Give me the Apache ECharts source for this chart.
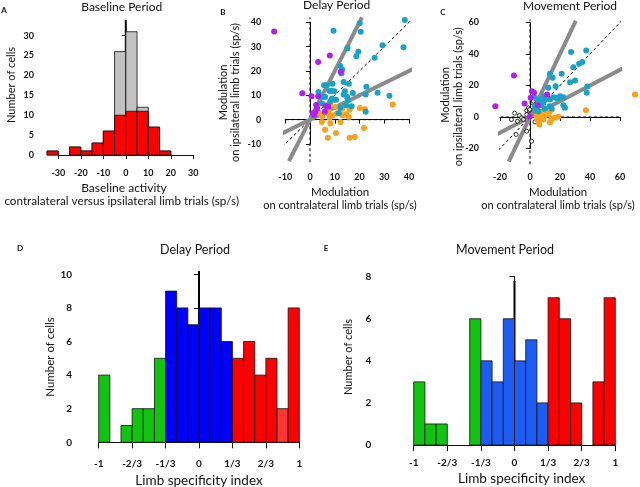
<!DOCTYPE html>
<html>
<head>
<meta charset="utf-8">
<script src="https://cdn.jsdelivr.net/npm/echarts@6/dist/echarts.min.js"></script>
<style>
  html, body { margin: 0; padding: 0; background: #fff; }
  #main { width: 640px; height: 487px; }
</style>
</head>
<body>
<div id="main"></div>
<script>
// A: baseline histogram, bin edges and counts (red = significant, total = red + grey)
var baseEdges = [-35, -30, -25, -20, -15, -10, -5, 0, 5, 10, 15, 20];
var baseRed = [1, 0, 2, 1, 3, 6, 10, 11, 11, 7, 1];
var baseTotal = [1, 0, 2, 1, 3, 6, 26, 31, 12, 7, 1];

// B: delay period scatter (contra, ipsi) in sp/s
var delayPurple = [[-14.5, 36.2], [3.3, 23.7], [8.0, 26.4], [12.4, 19.7], [-3.1, 10.9], [0.6, 9.6], [3.3, 9.6],
  [2.5, 6.0], [2.9, 4.7], [2.2, 3.3], [1.6, 1.9], [1.1, 2.6], [6.3, 5.6], [7.4, 5.3], [6.0, 3.3]];
var delayCyan = [[38.3, 40.9], [20.1, 39.6], [20.5, 36.1], [9.5, 36.5], [15.1, 29.3], [29.3, 30.6], [37.8, 29.7],
  [19.5, 27.9], [18.7, 26.1], [26.1, 25.4], [12.3, 22.0], [13.0, 20.6], [12.7, 19.0], [5.7, 14.1], [6.8, 14.1],
  [9.1, 14.8], [13.6, 15.5], [15.7, 14.8], [8.9, 11.8], [9.8, 11.7], [7.9, 11.8], [3.4, 11.4], [14.1, 11.7],
  [13.6, 10.3], [15.0, 9.3], [17.3, 11.0], [22.8, 13.5], [27.3, 11.1], [22.5, 10.3], [32.1, 9.8], [15.4, 8.0],
  [16.8, 5.5], [14.6, 5.9], [22.5, 3.2], [4.8, 9.3], [4.8, 6.6], [8.9, 8.7], [10.5, 8.2], [8.2, 7.6], [7.2, 5.9],
  [6.1, 9.3], [12.3, 4.9], [11.6, 2.7]];
var delayOrange = [[33.4, 6.2], [20.1, 4.8], [22.2, 4.3], [16.0, 4.1], [13.0, 4.5], [9.5, 8.0], [8.2, 6.6],
  [6.1, 5.9], [4.1, 2.5], [5.0, 1.4], [7.5, 2.5], [7.9, 0.8], [9.1, 1.8], [10.9, 2.5], [13.0, 1.8], [15.7, 1.1],
  [4.8, -1.0], [8.2, -1.6], [12.3, -1.0], [6.1, -4.1], [10.5, -5.5], [21.8, -3.4], [7.2, -7.4], [16.0, -7.4],
  [18.1, -7.1], [7.5, 3.8], [10.2, 5.2], [14.6, 2.2]];
// reference lines, endpoints
var delaySteep = [[-8.5, -17], [21, 42]];
var delayShallow = [[-16.8, -8.4], [44.4, 22.2]];
var delayUnity = [[-16, -16], [42.5, 42.5]];
var delayVert = [[0, -17.5], [0, 42]];
var delayHoriz = [[-16.4, 0], [43, 0]];

// C: movement period scatter
var movePurple = [[-10.7, 26.3], [-23.1, 6.9], [1.3, 16.4], [2.7, 15.4], [-3.6, 8.6], [0.4, 12.2], [11.4, 14.3],
  [5.3, 7.5], [-0.2, 0.1]];
var moveCyan = [[37.5, 42.2], [27.4, 41.2], [34.9, 35], [32.7, 33.8], [28.9, 31.6], [21.1, 27.4], [13.3, 27.4],
  [15.1, 24.9], [26.7, 22.1], [30, 23.2], [17.1, 19.6], [12.2, 18.5], [38.2, 19.4], [37.8, 15.4], [20, 13.2],
  [22.2, 12.6], [15.6, 12.6], [17.3, 12.2], [18.2, 11.7], [8.9, 13.2], [6.2, 10.5], [7.8, 7.5], [10, 5.4],
  [13.3, 6.9], [14.4, 5.4], [22.2, 7.5], [23.3, 5.8], [3.3, 6.9], [4.4, 4.8], [13.3, 11.1], [3.3, 12.2],
  [10, 11.1], [5.6, 3.7], [8.9, 9.0]];
var moveOrange = [[70, 14.3], [37.3, 4.3], [18.9, 0.1], [16.7, -0.5], [14.4, -1.2], [11.1, 2.7], [6.7, 2.7],
  [4.4, 0.5], [6.7, -0.5], [5.6, -2.7], [6.2, -4.8], [8.9, -1.6], [12.2, 1.6], [10, 1.1], [13.3, 3.7],
  [14.4, 4.8], [13.3, -3.3]];
var moveOpen = [[-10.2, 2.4], [-12.4, -1.6], [-7.1, 1], [-5.6, -0.5], [-4.4, -1.6], [-8.4, -2.7], [-2.2, 4.1],
  [-1.1, 5.8], [1.8, 9], [2.2, 10], [-9.3, -11.1], [-2.2, -9], [1.1, -15.4], [3.3, -3.1], [-0.4, 4.1],
  [-2.2, 1.6], [-0.2, 4.8]];
var moveSteep = [[-14.2, -28.4], [30.5, 61]];
var moveShallow = [[-27, -13.5], [74, 37]];
var moveUnity = [[-28.5, -28.5], [61.5, 61.5]];
var moveVert = [[0, -30], [0, 62]];
var moveHoriz = [[-27, 0], [64, 0]];

// D/E: limb specificity histograms, 18 bins of 1/9
var specEdges = [-1, -8/9, -7/9, -6/9, -5/9, -4/9, -3/9, -2/9, -1/9, 0, 1/9, 2/9, 3/9, 4/9, 5/9, 6/9, 7/9, 8/9, 1];
var specTicks = ['-1', '-2/3', '-1/3', '0', '1/3', '2/3', '1'];
var delayCounts = [4, 0, 1, 2, 2, 5, 9, 8, 7, 8, 8, 6, 5, 6, 4, 5, 2, 8];
var delayGroup = ['g', 'g', 'g', 'g', 'g', 'g', 'b', 'b', 'b', 'b', 'b', 'b', 'r', 'r', 'r', 'r', 'r2', 'r'];
var moveCounts = [3, 1, 1, 0, 0, 6, 4, 3, 6, 4, 5, 2, 7, 6, 2, 0, 3, 7];
var moveGroup = ['g', 'g', 'g', 'g', 'g', 'g', 'b', 'b', 'b', 'b', 'b', 'b', 'r', 'r', 'r', 'r', 'r', 'r'];

var FONT = 'Lato';
var chart = echarts.init(document.getElementById('main'));

function histRender(params, api) {
  var n = api.value(2);
  if (!n) return null;
  var p0 = api.coord([api.value(0), n]);
  var p1 = api.coord([api.value(1), 0]);
  return {
    type: 'rect',
    shape: { x: p0[0], y: p0[1], width: p1[0] - p0[0], height: p1[1] - p0[1] },
    style: { fill: api.visual('color'), stroke: '#111', lineWidth: 0.8 }
  };
}

function histData(edges, counts, colorOf) {
  var out = [];
  for (var i = 0; i < counts.length; i++) {
    out.push({ value: [edges[i], edges[i + 1], counts[i]], itemStyle: { color: colorOf(i) } });
  }
  return out;
}

function axisX(idx, min, max, interval, offset, margin, tickLen, size, fmt) {
  return {
    gridIndex: idx, type: 'value', min: min, max: max, interval: interval, offset: offset,
    splitLine: { show: false },
    axisLine: { lineStyle: { color: '#111', width: 1 } },
    axisTick: { length: tickLen, lineStyle: { color: '#111' } },
    axisLabel: { margin: margin, fontSize: size, color: '#111', fontFamily: FONT, fontWeight: 'bold', formatter: fmt, showMinLabel: true, showMaxLabel: true }
  };
}
function axisY(idx, min, max, interval, offset, margin, tickLen, size) {
  return {
    gridIndex: idx, type: 'value', min: min, max: max, interval: interval, offset: offset,
    splitLine: { show: false },
    axisLine: { lineStyle: { color: '#111', width: 1 } },
    axisTick: { length: tickLen, lineStyle: { color: '#111' } },
    axisLabel: { margin: margin, fontSize: size, color: '#111', fontFamily: FONT, fontWeight: 'bold' }
  };
}
var specFmt = function (v) { return specTicks[Math.round((v + 1) * 3)]; };

function lineSeries(idx, pts, color, width, dashed) {
  return {
    type: 'line', xAxisIndex: idx, yAxisIndex: idx, data: pts, showSymbol: false, clip: false,
    silent: true, z: 1,
    lineStyle: { color: color, width: width, type: dashed ? [3, 2.5] : 'solid' }
  };
}
function dots(idx, pts, color, size) {
  return {
    type: 'scatter', xAxisIndex: idx, yAxisIndex: idx, data: pts, clip: false, z: 3,
    symbolSize: size || 6, itemStyle: { color: color, opacity: 1 }
  };
}

var colorD = { g: '#10c410', b: '#0000ff', r: '#ff0000', r2: '#ff3535' };
var colorE = { g: '#12c412', b: '#1d5cf2', r: '#ff0000' };

function txt(x, y, s, size, rot, weight) {
  return {
    type: 'text', x: x, y: y, rotation: rot ? Math.PI / 2 : 0,
    style: { text: s, fill: '#111', font: (weight || 'normal') + ' ' + size + 'px ' + FONT, align: 'center', verticalAlign: 'middle' }
  };
}

var option = {
  animation: false,
  backgroundColor: '#fff',
  grid: [
    { left: 58.3, top: 35.7, width: 135, height: 119.3 },
    { left: 285.25, top: 22.3, width: 123.75, height: 121.7 },
    { left: 500, top: 22.5, width: 120, height: 126 },
    { left: 98.7, top: 274.3, width: 200.6, height: 168 },
    { left: 413.7, top: 276.7, width: 201.6, height: 168.3 }
  ],
  xAxis: [
    axisX(0, -30, 30, 10, 7, 7, 4, 9),
    axisX(1, -10, 40, 10, 20, 9, 4, 9),
    axisX(2, -20, 60, 20, 15.5, 9, 4, 9),
    axisX(3, -1, 1, 1 / 3, 4.7, 12, 6, 10, specFmt),
    axisX(4, -1, 1, 1 / 3, 3.3, 9, 6, 10, specFmt)
  ],
  yAxis: [
    axisY(0, 0, 30, 5, 18.3, 6, 4, 9),
    axisY(1, -10, 40, 10, 19, 5, 4, 9),
    axisY(2, -20, 60, 20, 14, 7, 4, 9),
    axisY(3, 0, 10, 2, 18.7, 8, 5, 10),
    axisY(4, 0, 8, 2, 31.4, 11, 5, 10)
  ],
  series: [
    // A
    { type: 'custom', xAxisIndex: 0, yAxisIndex: 0, renderItem: histRender, encode: { x: [0, 1], y: 2 },
      data: histData(baseEdges, baseTotal, function () { return '#c2c2c2'; }) },
    { type: 'custom', xAxisIndex: 0, yAxisIndex: 0, renderItem: histRender, encode: { x: [0, 1], y: 2 },
      data: histData(baseEdges, baseRed, function () { return '#ff0000'; }) },
    lineSeries(0, [[0, 0], [0, 34]], '#000', 2, false),
    // B
    lineSeries(1, delayVert, '#000', 1, true),
    lineSeries(1, delayHoriz, '#000', 1, true),
    lineSeries(1, delayUnity, '#000', 1, true),
    lineSeries(1, delaySteep, '#8a8a8a', 4, false),
    lineSeries(1, delayShallow, '#8a8a8a', 4, false),
    dots(1, delayOrange, '#f8a11b'),
    dots(1, delayCyan, '#17a3c8'),
    dots(1, delayPurple, '#b01ef2'),
    // C
    lineSeries(2, moveVert, '#000', 1, true),
    lineSeries(2, moveHoriz, '#000', 1, true),
    lineSeries(2, moveUnity, '#000', 1, true),
    lineSeries(2, moveSteep, '#8a8a8a', 4, false),
    lineSeries(2, moveShallow, '#8a8a8a', 4, false),
    { type: 'scatter', xAxisIndex: 2, yAxisIndex: 2, data: moveOpen, clip: false, z: 3, symbolSize: 4,
      itemStyle: { color: '#fff', borderColor: '#000', borderWidth: 1 } },
    dots(2, moveOrange, '#f8a11b'),
    dots(2, moveCyan, '#17a3c8'),
    dots(2, movePurple, '#b01ef2'),
    // D
    { type: 'custom', xAxisIndex: 3, yAxisIndex: 3, renderItem: histRender, encode: { x: [0, 1], y: 2 },
      data: histData(specEdges, delayCounts, function (i) { return colorD[delayGroup[i]]; }) },
    lineSeries(3, [[0, 0], [0, 10.2]], '#000', 2, false),
    // E
    { type: 'custom', xAxisIndex: 4, yAxisIndex: 4, renderItem: histRender, encode: { x: [0, 1], y: 2 },
      data: histData(specEdges, moveCounts, function (i) { return colorE[moveGroup[i]]; }) },
    lineSeries(4, [[0, 0], [0, 7.8]], '#000', 2, false)
  ],
  graphic: [
    txt(4, 10, 'A', 8, false, 'bold'),
    txt(121.7, 7, 'Baseline Period', 12),
    txt(11.7, 85, 'Number of cells', 11, true),
    txt(124, 188, 'Baseline activity', 12),
    txt(121.7, 201.5, 'contralateral versus ipsilateral limb trials (sp/s)', 11.7),

    txt(223, 12, 'B', 8, false, 'bold'),
    txt(336.7, 5.5, 'Delay Period', 12),
    txt(223, 92.5, 'Modulation', 11, true),
    txt(235.5, 92.5, 'on ipsilateral limb trials (sp/s)', 11, true),
    txt(340, 192, 'Modulation', 11.5),
    txt(340, 205, 'on contralateral limb trials (sp/s)', 11),

    txt(443, 12, 'C', 8, false, 'bold'),
    txt(570, 6, 'Movement Period', 12),
    txt(445, 95, 'Modulation', 11, true),
    txt(458, 96.7, 'on ipsilateral limb trials (sp/s)', 11, true),
    txt(558, 192, 'Modulation', 11.5),
    txt(558, 205, 'on contralateral limb trials (sp/s)', 11),

    txt(20, 248, 'D', 8, false, 'bold'),
    txt(195, 250, 'Delay Period', 12.5),
    txt(50, 357, 'Number of cells', 11.5, true),
    txt(199, 480.7, 'Limb specificity index', 13.5),

    txt(326, 248, 'E', 8, false, 'bold'),
    txt(505, 250, 'Movement Period', 12.5),
    txt(348, 357, 'Number of cells', 11, true),
    txt(521.7, 478.3, 'Limb specificity index', 13.5)
  ]
};
chart.setOption(option);
</script>
</body>
</html>
